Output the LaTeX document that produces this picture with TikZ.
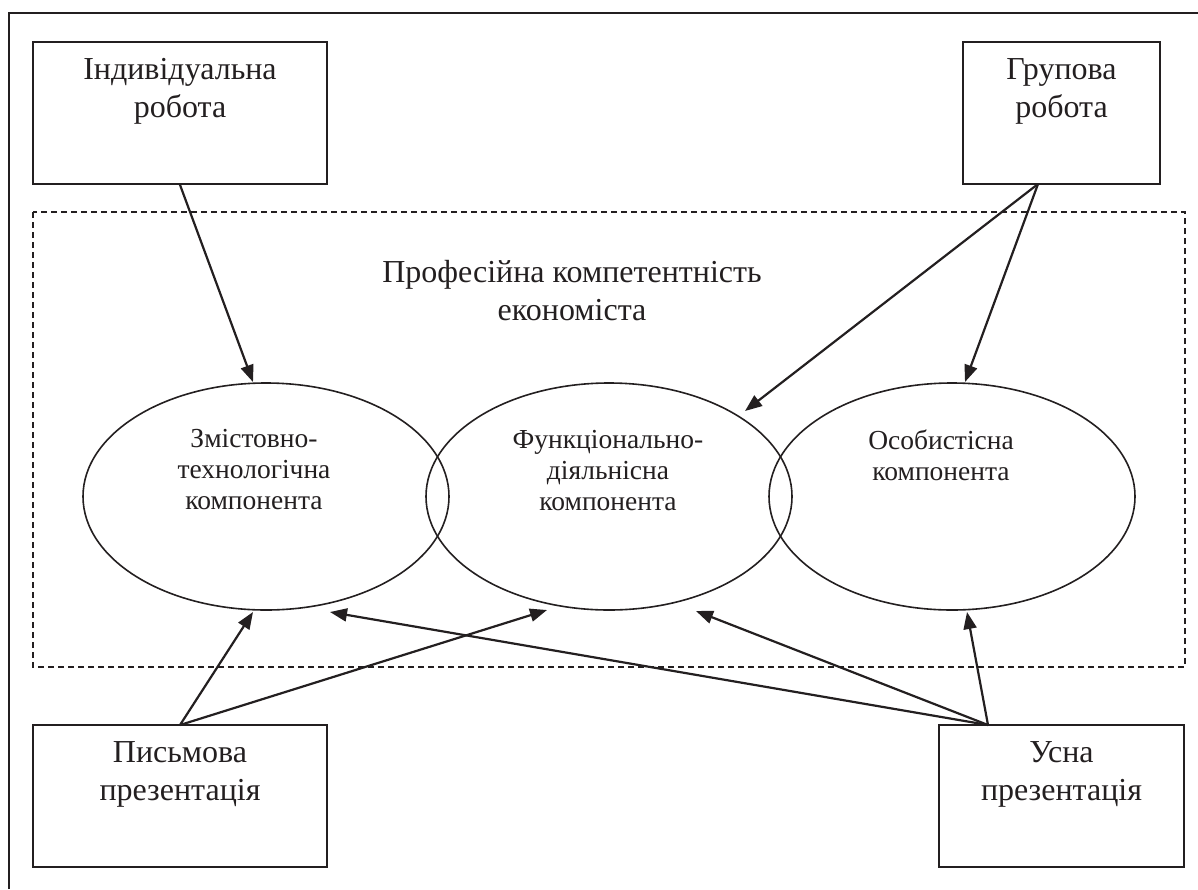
\documentclass[tikz,border=0pt]{standalone}
\usepackage{fontspec}
\setmainfont{Liberation Serif}
\usetikzlibrary{arrows.meta,shapes.geometric}
\definecolor{ink}{HTML}{231F20}
\begin{document}
\begin{tikzpicture}[x=1pt,y=-1pt,
  boxstyle/.style={draw=ink,line width=1.7pt,rectangle,inner sep=0pt},
  ellstyle/.style={draw=ink,line width=1.6pt,ellipse,inner sep=0pt,minimum width=366pt,minimum height=227pt},
  bigtext/.style={text=ink,align=center,font=\fontsize{32}{38}\selectfont,inner sep=0pt},
  smalltext/.style={text=ink,align=center,font=\fontsize{27.5}{31}\selectfont,inner sep=0pt},
  arr/.style={draw=ink,line width=2.2pt,-{Triangle[length=17pt,width=13pt]}},
  dashedframe/.style={draw=ink,line width=1.4pt,dash pattern=on 6pt off 4pt}
]
\useasboundingbox (0,0) rectangle (1198,889);
% outer frame (only top and left edges are visible)
\draw[ink,line width=1.7pt] (9,889) -- (9,13) -- (1198,13);
% dashed competence frame
\draw[dashedframe] (33,212) rectangle (1185,667);
% boxes
\node[boxstyle,minimum width=294pt,minimum height=142pt] (ind) at (180,113) {};
\node[boxstyle,minimum width=197pt,minimum height=142pt] (grp) at (1061.5,113) {};
\node[boxstyle,minimum width=294pt,minimum height=142pt] (wri) at (180,796) {};
\node[boxstyle,minimum width=245pt,minimum height=142pt] (ora) at (1061.5,796) {};
\node[bigtext] (indt) at (180,91) {Індивідуальна\\робота};
\node[bigtext] (grpt) at (1061.5,91) {Групова\\робота};
\node[bigtext] (writ) at (180,774) {Письмова\\презентація};
\node[bigtext] (orat) at (1061.5,774) {Усна\\презентація};
% title
\node[bigtext] (title) at (572,291) {Професійна компетентність\\економіста};
% ellipses
\node[ellstyle] (e1) at (266,496.5) {};
\node[ellstyle] (e2) at (609,496.5) {};
\node[ellstyle] (e3) at (952,496.5) {};
\node[smalltext] (e1t) at (254,470) {Змістовно-\\технологічна\\компонента};
\node[smalltext] (e2t) at (608,471) {Функціонально-\\діяльнісна\\компонента};
\node[smalltext] (e3t) at (941,455.5) {Особистісна\\компонента};
% connector end points
\coordinate (grpout) at (1038,184);
\coordinate (wriout) at (180,725);
\coordinate (oraout) at (988,725);
\coordinate (e1top) at (253,382);
\coordinate (e2ur) at (745,411);
\coordinate (e3top) at (965,382);
\coordinate (e1bot) at (253,612);
\coordinate (e1br) at (330,612);
\coordinate (e2bl) at (547,610);
\coordinate (e2br) at (696,611);
\coordinate (e3bot) at (967,612);
% arrows
\draw[arr] (ind.south) -- (e1top);
\draw[arr] (grpout) -- (e2ur);
\draw[arr] (grpout) -- (e3top);
\draw[arr] (wriout) -- (e1bot);
\draw[arr] (wriout) -- (e2bl);
\draw[arr] (oraout) -- (e1br);
\draw[arr] (oraout) -- (e2br);
\draw[arr] (oraout) -- (e3bot);
\end{tikzpicture}
\end{document}
